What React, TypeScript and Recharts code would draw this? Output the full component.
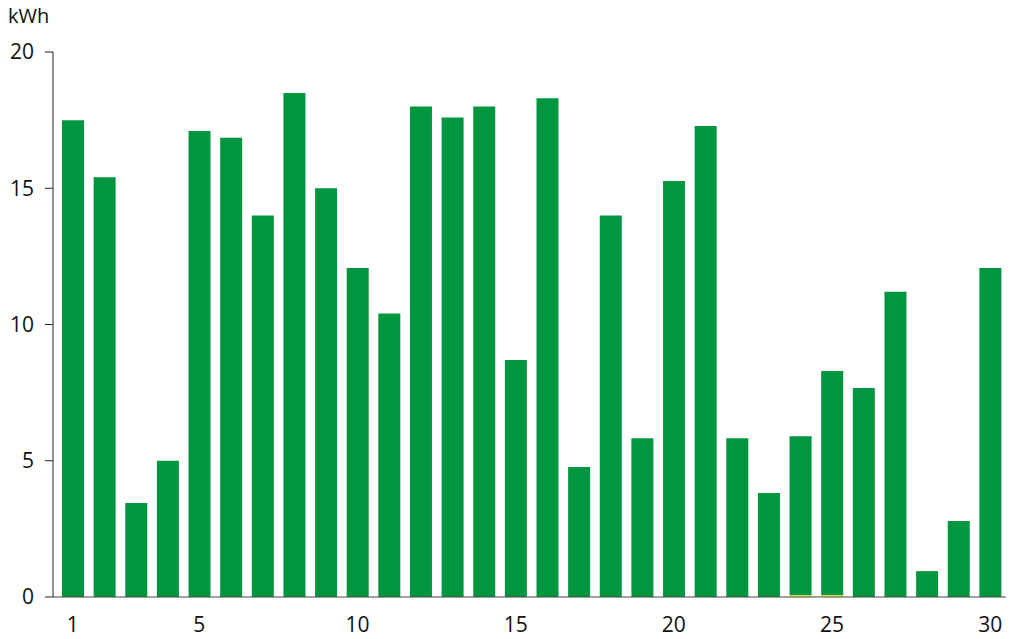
import React from 'react';
import { BarChart, Bar, XAxis, YAxis } from 'recharts';

const days = [1,2,3,4,5,6,7,8,9,10,11,12,13,14,15,16,17,18,19,20,21,22,23,24,25,26,27,28,29,30];
const energy = [17.5,15.4,3.45,5.0,17.1,16.85,14.0,18.5,15.0,12.07,10.4,18.0,17.6,18.0,8.7,18.3,4.77,14.0,5.83,15.27,17.28,5.83,3.82,5.83,8.22,7.67,11.2,0.95,2.79,12.07];
const other = [0,0,0,0,0,0,0,0,0,0,0,0,0,0,0,0,0,0,0,0,0,0,0,0.07,0.07,0,0,0,0,0];
const yTicks = [0,5,10,15,20];

const data = days.map((d, i) => ({ day: d, other: other[i], energy: energy[i] }));

const font = '"Open Sans", "Noto Sans", sans-serif';

export default function App() {
  return (
    <div style={{ position: 'relative', width: 1017, height: 639, margin: '-8px 0 0 -8px', overflow: 'hidden', fontFamily: font }}>
      <BarChart width={1017} height={639} data={data} margin={{ top: 52, right: 11, bottom: 2, left: 8 }} barSize={22}>
        <XAxis
          dataKey="day"
          tickLine={false}
          stroke="#444"
          tick={{ fill: '#111', fontSize: 21, fontFamily: font }}
          interval={0}
          tickFormatter={(d: number) => (d === 1 || d % 5 === 0 ? String(d) : '')}
          height={40}
          tickMargin={14}
          padding={{ left: 4, right: 0 }}
        />
        <YAxis
          ticks={yTicks}
          domain={[0, 20]}
          stroke="#222"
          tickSize={8}
          width={45}
          tick={{ fill: '#111', fontSize: 21, fontFamily: font }}
          tickMargin={11}
        />
        <Bar dataKey="other" stackId="a" fill="#d4e04a" isAnimationActive={false} />
        <Bar dataKey="energy" stackId="a" fill="#009640" isAnimationActive={false} />
      </BarChart>
      <div style={{ position: 'absolute', left: 8, top: 8, fontSize: 20, lineHeight: '16px', color: '#111', fontFamily: font, whiteSpace: 'nowrap', zIndex: 5 }}>kWh</div>
    </div>
  );
}
